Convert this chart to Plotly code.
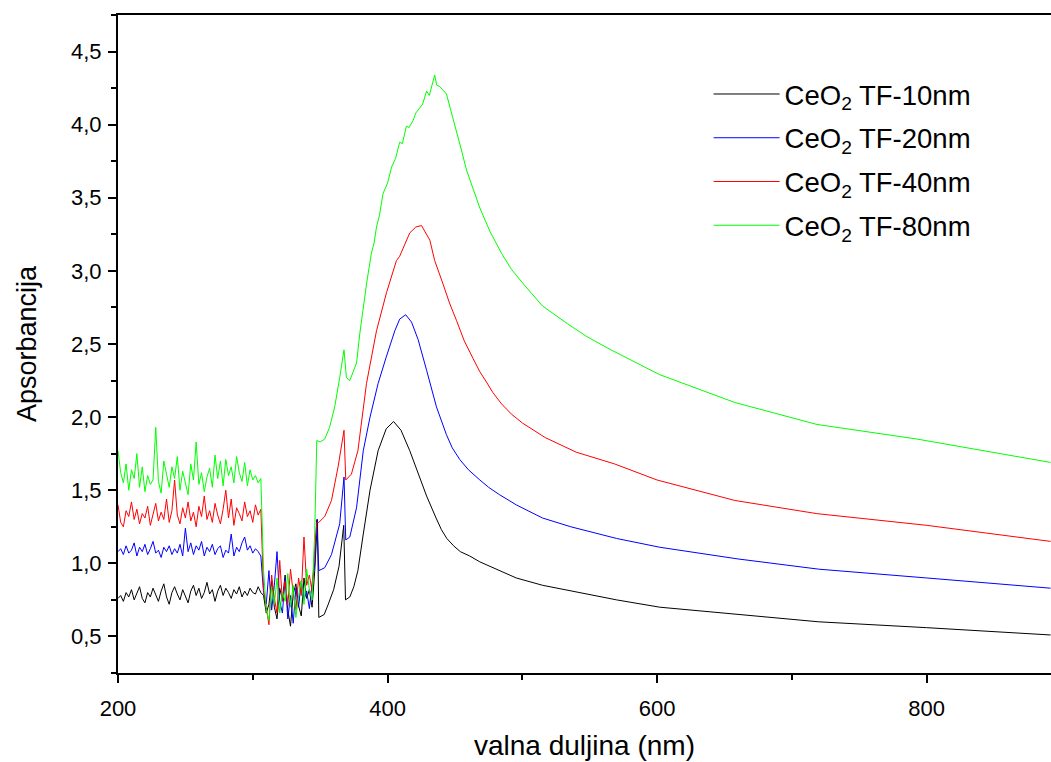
import plotly.graph_objects as go

# ---------------- data ----------------
# noisy region, 2 nm step, 200..346 nm
wl_noise = list(range(200, 348, 2))

black_noise = [0.76, 0.78, 0.74, 0.80, 0.77, 0.82, 0.75, 0.79, 0.84, 0.76,
               0.73, 0.80, 0.77, 0.83, 0.78, 0.74, 0.81, 0.86, 0.77, 0.72,
               0.80, 0.84, 0.79, 0.75, 0.82, 0.78, 0.73, 0.81, 0.85, 0.78,
               0.83, 0.76, 0.80, 0.87, 0.79, 0.82, 0.74, 0.81, 0.85, 0.78,
               0.83, 0.80, 0.76, 0.82, 0.79, 0.84, 0.77, 0.81, 0.78, 0.83,
               0.80, 0.79, 0.84, 0.80,
               0.78, 0.66, 0.72, 0.88, 0.70, 0.62, 0.83, 0.75, 0.92, 0.68,
               0.57, 0.79, 0.86, 0.71, 0.64, 0.90, 0.76, 0.82, 0.70, 0.95]
blue_noise = [1.08, 1.10, 1.06, 1.12, 1.07, 1.09, 1.14, 1.05, 1.11, 1.08,
              1.13, 1.06, 1.10, 1.15, 1.07, 1.09, 1.04, 1.11, 1.08, 1.12,
              1.06, 1.10, 1.07, 1.13, 1.05, 1.24, 1.08, 1.14, 1.06, 1.12,
              1.09, 1.15, 1.05, 1.11, 1.08, 1.13, 1.06, 1.10, 1.12, 1.04,
              1.09, 1.07, 1.20, 1.05, 1.11, 1.08, 1.14, 1.18, 1.09, 1.12,
              1.07, 1.10, 1.08, 1.05,
              0.80, 0.72, 0.95, 0.68, 0.85, 1.08, 0.74, 0.66, 0.90, 0.62,
              0.78, 0.59, 0.83, 0.70, 0.88, 0.75, 0.81, 0.69, 0.86, 1.00]
red_noise = [1.40, 1.28, 1.25, 1.36, 1.32, 1.42, 1.30, 1.37, 1.27, 1.34,
             1.31, 1.39, 1.26, 1.33, 1.41, 1.29, 1.35, 1.30, 1.44, 1.28,
             1.36, 1.57, 1.33, 1.27, 1.38, 1.31, 1.42, 1.29, 1.35, 1.25,
             1.39, 1.32, 1.46, 1.30, 1.36, 1.28, 1.41, 1.33, 1.27, 1.37,
             1.50, 1.31, 1.44, 1.26, 1.38, 1.34, 1.29, 1.42, 1.32, 1.36,
             1.28, 1.40, 1.33, 1.37,
             0.82, 0.70, 0.58, 0.92, 0.76, 0.66, 1.02, 0.74, 0.88, 0.71,
             0.96, 0.80, 0.68, 0.90, 0.78, 1.18, 0.85, 0.92, 0.81, 1.10]
green_noise = [1.77, 1.62, 1.55, 1.68, 1.50, 1.64, 1.58, 1.75, 1.52, 1.66,
               1.49, 1.60, 1.54, 1.57, 1.93, 1.56, 1.48, 1.70, 1.61, 1.52,
               1.66, 1.58, 1.73, 1.50, 1.63, 1.55, 1.47, 1.68, 1.57, 1.83,
               1.54, 1.62, 1.49, 1.59, 1.65, 1.52, 1.74, 1.58, 1.70, 1.53,
               1.71, 1.60, 1.66, 1.55, 1.73, 1.62, 1.56, 1.69, 1.53, 1.64,
               1.57, 1.60, 1.55, 1.58,
               0.95, 0.68, 0.61, 0.84, 0.72, 0.90, 0.66, 0.80, 0.74, 0.93,
               0.70, 0.85, 0.63, 0.78, 0.88, 0.72, 0.96, 0.82, 0.75, 1.22]

# smooth region, per series
black_wl = [348, 349, 353, 356, 360, 364, 367.5, 368.8, 372, 375, 378, 382, 387,
            393, 399, 404.5, 410, 416.5, 424, 429, 436, 440, 444, 449, 454, 461,
            468.5, 476, 483, 495.5, 515, 536, 570, 602, 660, 720, 800, 892]
black_val = [1.30, 0.63, 0.65, 0.72, 0.82, 0.98, 1.26, 0.75, 0.77, 0.84, 0.95,
             1.20, 1.50, 1.77, 1.92, 1.97, 1.91, 1.77, 1.59, 1.46, 1.31, 1.23,
             1.17, 1.12, 1.08, 1.05, 1.01, 0.98, 0.95, 0.90, 0.85, 0.81, 0.75,
             0.70, 0.65, 0.60, 0.56, 0.51]

blue_wl = [347.5, 349, 353.4, 358.4, 364.5, 367.7, 369, 372, 377, 382, 387, 393,
           399, 405.4, 409, 413.5, 417.8, 422.7, 429, 436.3, 443.7, 448, 453.6,
           460, 468.5, 475, 483, 495.5, 515, 536, 570, 602, 660, 720, 800, 892]
blue_val = [1.30, 0.95, 0.97, 1.06, 1.27, 1.59, 1.16, 1.18, 1.38, 1.77, 2.00,
            2.23, 2.41, 2.59, 2.67, 2.70, 2.65, 2.53, 2.32, 2.07, 1.88, 1.79,
            1.71, 1.64, 1.57, 1.52, 1.47, 1.40, 1.31, 1.25, 1.17, 1.11, 1.03,
            0.96, 0.90, 0.83]

red_wl = [347.5, 349, 353.4, 358.4, 363.3, 367.7, 369, 373.2, 378, 384.4,
          391.8, 399.2, 406.6, 409, 416.5, 421, 425.2, 431.4, 435, 441.2,
          446, 451.2, 457, 463.5, 468.5, 473.4, 478, 484.6, 492, 500, 517,
          540, 568.4, 600, 657.7, 718.5, 800, 892]
red_val = [1.28, 1.28, 1.32, 1.43, 1.66, 1.91, 1.57, 1.61, 1.77, 2.23, 2.59,
           2.85, 3.07, 3.10, 3.26, 3.30, 3.31, 3.21, 3.07, 2.91, 2.78, 2.66,
           2.52, 2.40, 2.31, 2.24, 2.17, 2.09, 2.02, 1.96, 1.86, 1.76, 1.68,
           1.57, 1.43, 1.34, 1.26, 1.15]

green_wl = [347.5, 350, 353.4, 357, 360.8, 364.5, 367.7, 369.5, 372, 377, 379.4,
            384.4, 388, 390, 391.8, 394, 396.7, 400, 403, 406, 409, 411, 414,
            416, 419, 421, 424, 426, 429, 431, 433, 435, 436.5, 438.8, 443.7,
            447, 451.2, 455, 458.6, 463, 468.5, 476, 484.6, 492, 500.9, 515,
            533.3, 548, 565.8, 602, 657.7, 718.5, 792.8, 892]
green_val = [1.84, 1.83, 1.85, 1.93, 2.07, 2.27, 2.46, 2.27, 2.25, 2.37, 2.57,
             2.91, 3.12, 3.19, 3.30, 3.38, 3.53, 3.60, 3.71, 3.77, 3.88, 3.87,
             3.99, 3.98, 4.03, 4.08, 4.12, 4.14, 4.23, 4.20, 4.27, 4.34, 4.27,
             4.26, 4.21, 4.10, 3.96, 3.82, 3.69, 3.57, 3.43, 3.27, 3.12, 3.01,
             2.91, 2.76, 2.64, 2.55, 2.46, 2.29, 2.10, 1.95, 1.85, 1.69]

names = ["CeO<sub>2</sub> TF-10nm", "CeO<sub>2</sub> TF-20nm",
         "CeO<sub>2</sub> TF-40nm", "CeO<sub>2</sub> TF-80nm"]
colors = ["#000000", "#0000FF", "#FF0000", "#00FF00"]

series = [
    (black_noise, black_wl, black_val),
    (blue_noise, blue_wl, blue_val),
    (red_noise, red_wl, red_val),
    (green_noise, green_wl, green_val),
]

x_ticks = [200, 400, 600, 800]

fig = go.Figure()
for i, (noise, swl, sval) in enumerate(series):
    fig.add_trace(go.Scatter(
        x=wl_noise + swl, y=noise + sval, mode="lines", name=names[i],
        legendgroup=f"g{i}",
        line=dict(color=colors[i], width=1),
    ))

font_family = "Liberation Sans, Arial, sans-serif"
fig.update_layout(
    width=1051, height=762,
    margin=dict(l=118, r=0, t=15, b=89),
    paper_bgcolor="white", plot_bgcolor="white",
    separators=",.",
    font=dict(family=font_family, color="black", size=22),
    showlegend=True,
    legend=dict(x=0.633, y=0.917, xanchor="left", yanchor="top",
                bgcolor="rgba(0,0,0,0)", font=dict(size=27.5),
                itemwidth=66, tracegroupgap=5),
    xaxis=dict(range=[200, 892.3], tickvals=x_ticks,
               ticks="outside", ticklen=8, tickwidth=2, tickcolor="black",
               showline=True, linewidth=2, linecolor="black", mirror=True,
               showgrid=False, zeroline=False, ticklabelstandoff=7,
               minor=dict(dtick=100, tick0=200, ticks="outside", ticklen=5,
                          tickwidth=2, tickcolor="black"),
               title=dict(text="valna duljina (nm)", font=dict(size=28),
                          standoff=15),
               tickfont=dict(size=22)),
    yaxis=dict(range=[0.25, 4.75], tick0=0.5, dtick=0.5, tickformat=".1f",
               ticks="outside", ticklen=8, tickwidth=2, tickcolor="black",
               showline=True, linewidth=2, linecolor="black",
               showgrid=False, zeroline=False, ticklabelstandoff=2,
               minor=dict(dtick=0.25, tick0=0.5, ticks="outside", ticklen=5,
                          tickwidth=2, tickcolor="black"),
               title=dict(text="Apsorbancija", font=dict(size=27), standoff=27),
               tickfont=dict(size=22)),
)

fig.write_html("out.html")
